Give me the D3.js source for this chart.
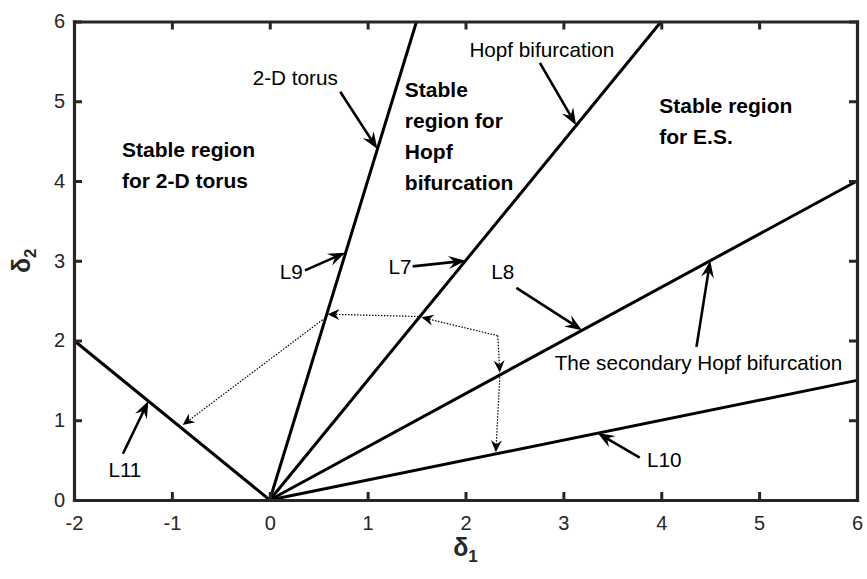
<!DOCTYPE html>
<html>
<head>
<meta charset="utf-8">
<script src="https://cdn.jsdelivr.net/npm/d3@7"></script>
<style>
  body { margin: 0; background: #fff; }
  svg { display: block; }
</style>
</head>
<body>
<svg id="chart" width="867" height="579"></svg>
<script>
const xTicks = [-2, -1, 0, 1, 2, 3, 4, 5, 6];
const yTicks = [0, 1, 2, 3, 4, 5, 6];

// boundary lines, all starting at the origin
const lineNames = ["L11", "L9", "L7", "L8", "L10"];
const lineEndX = [-2, 1.5, 4, 6, 6];
const lineEndY = [2, 6, 6, 4, 1.5];

// labelled arrows (data units): text centre, arrow start, arrow tip
const arrowText = ["2-D torus", "Hopf bifurcation", "The secondary Hopf bifurcation", "L9", "L7", "L8", "L10", "L11"];
const arrowTextX = [0.26, 2.78, 4.38, 0.22, 1.33, 2.38, 4.03, -1.48];
const arrowTextY = [5.30, 5.64, 1.72, 2.86, 2.92, 2.86, 0.50, 0.38];
const arrowFrom = [[0.72, 5.12], [2.76, 5.48], [4.36, 1.92], [0.36, 2.88], [1.46, 2.93], [2.52, 2.66], [3.78, 0.53], [-1.50, 0.58]];
const arrowTo = [[1.1, 4.4], [3.13, 4.7], [4.5, 3.0], [0.77, 3.1], [2.0, 3.0], [3.19, 2.13], [3.35, 0.84], [-1.24, 1.24]];

// dotted transition arrows
const dotFrom = [[2.33, 2.06], [1.55, 2.3], [0.54, 2.26], [2.33, 2.06], [2.35, 1.54]];
const dotTo = [[1.55, 2.29], [0.59, 2.33], [-0.89, 0.94], [2.35, 1.6], [2.31, 0.6]];

// region labels, first line position
const regionLines = [["Stable region", "for 2-D torus"], ["Stable", "region for", "Hopf", "bifurcation"], ["Stable region", "for E.S."]];
const regionX = [-1.51, 1.38, 3.98];
const regionY = [4.39, 5.14, 4.95];

const font = "'Liberation Sans', Arial, Helvetica, sans-serif";
const axisColor = "#262626";
const svg = d3.select("#chart");

const x = d3.scaleLinear().domain([-2, 6]).range([74, 857]);
const y = d3.scaleLinear().domain([0, 6]).range([500, 21.5]);
const fmt = d => String(d);

// boundary lines
const lines = svg.append("g");
lineNames.forEach((name, i) => {
  lines.append("line")
    .attr("x1", x(0)).attr("y1", y(0))
    .attr("x2", x(lineEndX[i])).attr("y2", y(lineEndY[i]))
    .attr("stroke", "#000").attr("stroke-width", 3);
});

function arrow(g, p0, p1, opts) {
  const x0 = x(p0[0]), y0 = y(p0[1]), x1 = x(p1[0]), y1 = y(p1[1]);
  const dx = x1 - x0, dy = y1 - y0, len = Math.hypot(dx, dy);
  const ux = dx / len, uy = dy / len, nx = -uy, ny = ux;
  const L = opts.head, W = opts.half, N = opts.notch;
  const bx = x1 - ux * L, by = y1 - uy * L;
  const cx = x1 - ux * (L - N), cy = y1 - uy * (L - N);
  g.append("line")
    .attr("x1", x0).attr("y1", y0).attr("x2", cx).attr("y2", cy)
    .attr("stroke", "#000").attr("stroke-width", opts.width)
    .attr("stroke-dasharray", opts.dash || null);
  g.append("path")
    .attr("d", `M${x1},${y1}L${bx + nx * W},${by + ny * W}L${cx},${cy}L${bx - nx * W},${by - ny * W}Z`)
    .attr("fill", "#000");
}

// dotted transitions
const dots = svg.append("g");
dotFrom.forEach((p, i) => arrow(dots, p, dotTo[i], { width: 1.2, dash: "1.5,1.5", head: 12, half: 5.5, notch: 4 }));

// labelled arrows
const ann = svg.append("g");
arrowText.forEach((t, i) => {
  arrow(ann, arrowFrom[i], arrowTo[i], { width: 2.6, head: 17, half: 6.5, notch: 6 });
  ann.append("text")
    .attr("x", x(arrowTextX[i])).attr("y", y(arrowTextY[i]))
    .attr("dy", "0.35em").attr("text-anchor", "middle")
    .attr("font-family", font).attr("font-size", 20.7)
    .text(t);
});

// region labels
regionLines.forEach((ls, i) => {
  const tx = svg.append("text")
    .attr("font-family", font).attr("font-size", 21).attr("font-weight", "bold");
  ls.forEach((s, j) => {
    tx.append("tspan")
      .attr("x", x(regionX[i]))
      .attr("y", y(regionY[i]) + j * 31)
      .attr("dy", "0.35em")
      .text(s);
  });
});

// axes box and ticks
const axes = svg.append("g").attr("color", axisColor);
axes.append("g").attr("transform", `translate(0,${y(0)})`)
  .call(d3.axisBottom(x).tickValues(xTicks).tickFormat(fmt).tickSizeInner(-8).tickSizeOuter(0).tickPadding(16));
axes.append("g").attr("transform", `translate(0,${y(6)})`)
  .call(d3.axisTop(x).tickValues(xTicks).tickSizeInner(-8).tickSizeOuter(0).tickFormat(""));
axes.append("g").attr("transform", `translate(${x(-2)},0)`)
  .call(d3.axisLeft(y).tickValues(yTicks).tickFormat(fmt).tickSizeInner(-8).tickSizeOuter(0).tickPadding(9));
axes.append("g").attr("transform", `translate(${x(6)},0)`)
  .call(d3.axisRight(y).tickValues(yTicks).tickSizeInner(-8).tickSizeOuter(0).tickFormat(""));
axes.selectAll(".domain").attr("stroke-width", 3.2).attr("stroke-linecap", "square");
axes.selectAll(".tick line").attr("stroke-width", 3);
axes.selectAll(".tick text").attr("font-family", font).attr("font-size", 20).attr("fill", axisColor);

// axis titles
const xl = svg.append("text")
  .attr("x", x(2)).attr("y", 556)
  .attr("text-anchor", "middle")
  .attr("font-family", font).attr("font-size", 25).attr("font-weight", "bold").attr("fill", axisColor)
  .text("δ");
xl.append("tspan").attr("font-size", 17).attr("dy", 6).text("1");

const yl = svg.append("text")
  .attr("transform", `translate(30,${y(3)}) rotate(-90)`)
  .attr("text-anchor", "middle")
  .attr("font-family", font).attr("font-size", 25).attr("font-weight", "bold").attr("fill", axisColor)
  .text("δ");
yl.append("tspan").attr("font-size", 17).attr("dy", 6).text("2");
</script>
</body>
</html>
